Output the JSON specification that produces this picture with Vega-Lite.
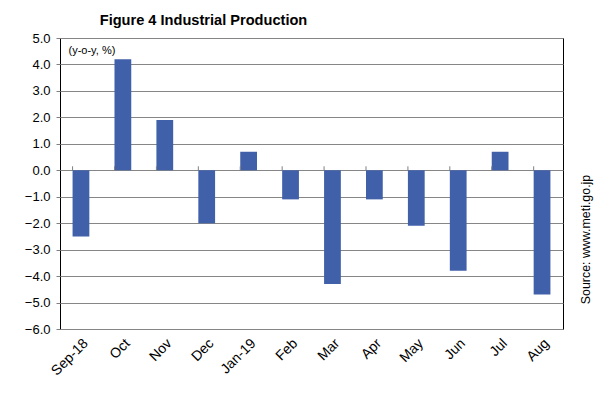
{
  "$schema": "https://vega.github.io/schema/vega-lite/v6.json",
  "autosize": "none",
  "width": 503,
  "height": 291,
  "padding": {"left": 60, "top": 38, "right": 35, "bottom": 69},
  "background": "white",
  "config": {
    "font": "Liberation Sans",
    "view": {"stroke": "black", "strokeWidth": 1},
    "axis": {"labelFont": "Liberation Sans", "titleFont": "Liberation Sans", "labelColor": "black", "titleColor": "black"}
  },
  "title": {
    "text": "Figure 4 Industrial Production",
    "anchor": "middle",
    "frame": "group",
    "dx": -108,
    "offset": 4,
    "fontSize": 14.6,
    "fontWeight": "bold",
    "font": "Liberation Sans",
    "color": "black"
  },
  "data": {
    "values": [
      {"month": "Sep-18", "value": -2.5},
      {"month": "Oct", "value": 4.2},
      {"month": "Nov", "value": 1.9},
      {"month": "Dec", "value": -2.0},
      {"month": "Jan-19", "value": 0.7},
      {"month": "Feb", "value": -1.1},
      {"month": "Mar", "value": -4.3},
      {"month": "Apr", "value": -1.1},
      {"month": "May", "value": -2.1},
      {"month": "Jun", "value": -3.8},
      {"month": "Jul", "value": 0.7},
      {"month": "Aug", "value": -4.7}
    ]
  },
  "layer": [
    {
      "mark": {"type": "bar", "color": "#4160AA"},
      "encoding": {
        "x": {
          "field": "month",
          "type": "nominal",
          "sort": null,
          "scale": {"paddingInner": 0.6, "paddingOuter": 0.3},
          "axis": {
            "title": null,
            "labelAngle": -45,
            "labelAlign": "right",
            "labelBaseline": "top",
            "labelFontSize": 14,
            "labelPadding": 7,
            "labelDx": 2,
            "ticks": false,
            "domain": false
          }
        },
        "y": {
          "field": "value",
          "type": "quantitative",
          "scale": {"domain": [-6, 5], "nice": false},
          "axis": {
            "values": [-6, -5, -4, -3, -2, -1, 0, 1, 2, 3, 4, 5],
            "format": ".1f",
            "labelFontSize": 13,
            "labelPadding": 6,
            "tickSize": 4,
            "tickColor": "#808080",
            "domain": false,
            "grid": true,
            "gridColor": "#868686",
            "gridWidth": 1,
            "title": "(y-o-y, %)",
            "titleAngle": 0,
            "titleAlign": "left",
            "titleBaseline": "middle",
            "titleX": 8,
            "titleY": 12,
            "titleFontSize": 11,
            "titleFontWeight": "normal"
          }
        },
        "y2": {"datum": 0}
      }
    },
    {
      "mark": {"type": "rule", "color": "#808080", "strokeWidth": 1},
      "encoding": {
        "x": {"field": "month", "type": "nominal", "sort": null, "bandPosition": 0},
        "y": {
          "datum": 0,
          "axis": {
            "orient": "right",
            "labels": false,
            "ticks": false,
            "domain": false,
            "grid": false,
            "title": "Source: www.meti.go.jp",
            "titleAngle": 270,
            "titleFontSize": 12.4,
            "titleFontWeight": "normal",
            "titleX": 22,
            "titleY": 201,
            "titleAlign": "center",
            "titleBaseline": "middle"
          }
        },
        "y2": {"datum": 0.15}
      }
    }
  ],
  "resolve": {"axis": {"y": "independent"}}
}
